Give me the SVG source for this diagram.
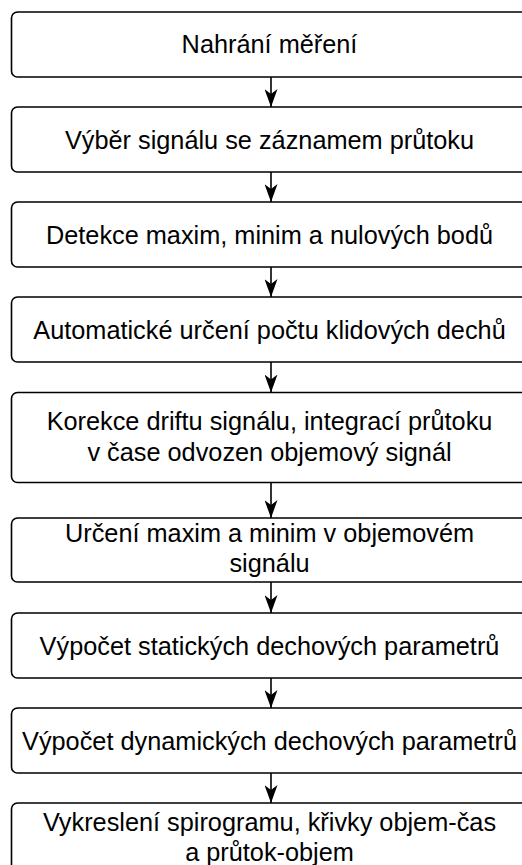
<svg xmlns="http://www.w3.org/2000/svg" width="522" height="865" viewBox="0 0 522 865">
<defs>
<style>
.box{fill:#fff;stroke:#000;stroke-width:1.6}
.t{font-family:"Liberation Sans",Arial,Helvetica,sans-serif;font-size:25.3px;fill:#000;text-anchor:middle}
.c{stroke:#000;stroke-width:1.6;fill:none}
</style>
<marker id="arr" viewBox="0 0 18 13" refX="18" refY="6.5" markerWidth="18" markerHeight="13" orient="auto" markerUnits="userSpaceOnUse"><path d="M0,0 L18,6.5 L0,13 L5,6.5 Z" fill="#000"/></marker>
</defs>
<rect width="522" height="865" fill="#fff"/>
<g id="connectors">
<line class="c" x1="271" y1="77" x2="271" y2="107" marker-end="url(#arr)"/>
<line class="c" x1="271" y1="172" x2="271" y2="202" marker-end="url(#arr)"/>
<line class="c" x1="271" y1="267" x2="271" y2="297" marker-end="url(#arr)"/>
<line class="c" x1="271" y1="362" x2="271" y2="392.5" marker-end="url(#arr)"/>
<line class="c" x1="271" y1="482.5" x2="271" y2="518" marker-end="url(#arr)"/>
<line class="c" x1="271" y1="582" x2="271" y2="613" marker-end="url(#arr)"/>
<line class="c" x1="271" y1="678" x2="271" y2="708" marker-end="url(#arr)"/>
<line class="c" x1="271" y1="773" x2="271" y2="803" marker-end="url(#arr)"/>
</g>
<g id="n1"><rect class="box" x="11.5" y="12" width="520" height="65" rx="6"/><text class="t" x="269.5" y="53">Nahrání měření</text></g>
<g id="n2"><rect class="box" x="11.5" y="107" width="520" height="65" rx="6"/><text class="t" x="269.5" y="148.5">Výběr signálu se záznamem průtoku</text></g>
<g id="n3"><rect class="box" x="11.5" y="202" width="520" height="65" rx="6"/><text class="t" x="269.5" y="243.5">Detekce maxim, minim a nulových bodů</text></g>
<g id="n4"><rect class="box" x="11.5" y="297" width="520" height="65" rx="6"/><text class="t" x="269.5" y="338.5">Automatické určení počtu klidových dechů</text></g>
<g id="n5"><rect class="box" x="11.5" y="392.5" width="520" height="90" rx="6"/><text class="t" x="269.5" y="430">Korekce driftu signálu, integrací průtoku</text><text class="t" x="269.5" y="461">v čase odvozen objemový signál</text></g>
<g id="n6"><rect class="box" x="11.5" y="518" width="520" height="64" rx="6"/><text class="t" x="269.5" y="542">Určení maxim a minim v objemovém</text><text class="t" x="269.5" y="572">signálu</text></g>
<g id="n7"><rect class="box" x="11.5" y="613" width="520" height="65" rx="6"/><text class="t" x="269.5" y="654.5">Výpočet statických dechových parametrů</text></g>
<g id="n8"><rect class="box" x="11.5" y="708" width="520" height="65" rx="6"/><text class="t" x="269.5" y="749.5">Výpočet dynamických dechových parametrů</text></g>
<g id="n9"><rect class="box" x="11.5" y="803" width="520" height="68" rx="6"/><text class="t" x="269.5" y="831">Vykreslení spirogramu, křivky objem-čas</text><text class="t" x="269.5" y="861">a průtok-objem</text></g>
</svg>
